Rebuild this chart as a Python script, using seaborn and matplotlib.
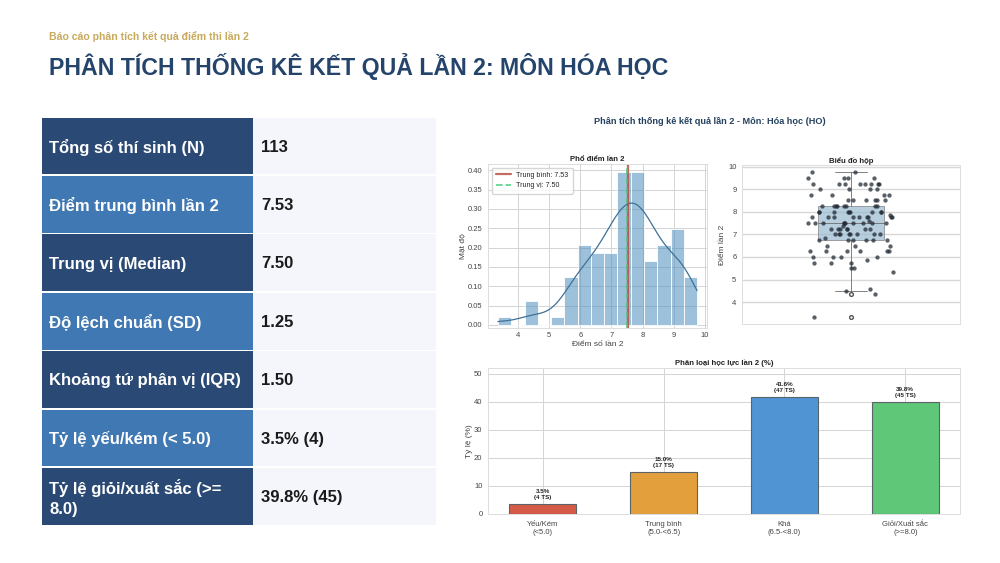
import numpy as np
import pandas as pd
import matplotlib
matplotlib.use("Agg")
import matplotlib.pyplot as plt
import seaborn as sns
from matplotlib.patches import Rectangle

sns.set_theme(style="whitegrid")
plt.rcParams['font.family'] = ['Liberation Sans', 'DejaVu Sans']

# Data
score_values = [3.35, 4.35, 4.5, 4.6, 5.35, 5.5, 5.75, 5.85, 6.0, 6.25, 6.5, 6.75, 6.85, 7.0,
                7.25, 7.35, 7.5, 7.6, 7.75, 7.85, 8.0, 8.25, 8.5, 8.75, 9.0, 9.25, 9.5, 9.75]
score_counts = [1, 1, 1, 1, 1, 2, 3, 1, 4, 6, 3, 6, 1, 8,
                7, 1, 10, 1, 9, 1, 9, 8, 6, 4, 4, 8, 4, 2]
mean_score = 7.53
median_score = 7.50

stat_labels = ["Tổng số thí sinh (N)", "Điểm trung bình lần 2", "Trung vị (Median)",
               "Độ lệch chuẩn (SD)", "Khoảng tứ phân vị (IQR)", "Tỷ lệ yếu/kém (< 5.0)",
               "Tỷ lệ giỏi/xuất sắc (>=\n8.0)"]
stat_values = ["113", "7.53", "7.50", "1.25", "1.50", "3.5% (4)", "39.8% (45)"]

grade_labels = ["Yếu/Kém\n(<5.0)", "Trung bình\n(5.0-<6.5)", "Khá\n(6.5-<8.0)", "Giỏi/Xuất sắc\n(>=8.0)"]
grade_pct = [3.5, 15.0, 41.6, 39.8]
grade_count = [4, 17, 47, 45]
grade_colors = ["#d55a48", "#e49f3d", "#5094d4", "#5ec878"]

scores = pd.Series(np.repeat(score_values, score_counts), name="score")

W, H = 1000, 563
fig = plt.figure(figsize=(10, 5.63), dpi=100, facecolor="white")


def px_axes(left, top, right, bottom):
    return fig.add_axes([left / W, 1 - bottom / H, (right - left) / W, (bottom - top) / H])


# Header
fig.text(49 / W, 1 - 37 / H, "Báo cáo phân tích kết quả điểm thi lần 2", fontsize=7.55,
         fontweight="bold", color="#c8aa5c", va="center")
fig.text(49 / W, 1 - 67 / H, "PHÂN TÍCH THỐNG KÊ KẾT QUẢ LẦN 2: MÔN HÓA HỌC", fontsize=16.7,
         fontweight="bold", color="#24446b", va="center")

# Stats table on the left
tb = fig.add_axes([0, 0, 1, 1], zorder=0)
tb.set_xlim(0, W)
tb.set_ylim(H, 0)
tb.axis("off")
row_h = 58.4
for i, (lab, val) in enumerate(zip(stat_labels, stat_values)):
    y = 117.5 + i * row_h
    tb.add_patch(Rectangle((253, y), 183, row_h - 1.5, color="#f4f6fb", lw=0))
    tb.add_patch(Rectangle((42, y), 211, row_h - 1.5, color="#2a4a75" if i % 2 == 0 else "#3f78b2", lw=0))
    tb.text(49, y + row_h / 2 + 0.5, lab, color="white", fontsize=12.0, fontweight="bold", va="center",
            linespacing=1.42)
    tb.text(261, y + row_h / 2 + 0.5, val, color="#1a1a1a", fontsize=12.0, fontweight="bold", va="center")

fig.text(709.5 / W, 1 - 121 / H, "Phân tích thống kê kết quả lần 2 - Môn: Hóa học (HO)", fontsize=6.55,
         fontweight="bold", color="#24405f", ha="center", va="center")

tick_size = 5.5
label_size = 6
title_size = 5.6

# Histogram
ax1 = px_axes(488, 164, 707, 328)
sns.histplot(x=scores, bins=15, stat="density", kde=True, color="#4f8ebf", alpha=0.55,
             edgecolor="white", linewidth=0.6, ax=ax1, line_kws={"linewidth": 0.9})
ax1.lines[0].set_color("#3f7196")
ax1.axvline(mean_score, color="#b5473a", lw=1.6, alpha=0.8, label=f"Trung bình: {mean_score:.2f}")
ax1.axvline(median_score, color="#3ecb78", lw=1.3, ls="--", alpha=0.8, label=f"Trung vị: {median_score:.2f}")
ax1.set_ylim(-0.0078, 0.416)
ax1.set_xticks([4, 5, 6, 7, 8, 9, 10])
ax1.set_yticks(np.arange(0, 0.41, 0.05))
ax1.set_yticklabels([f"{v:.2f}" for v in np.arange(0, 0.41, 0.05)])
ax1.set_title("Phổ điểm lần 2", fontsize=title_size, fontweight="bold", color="#222222", pad=2.5)
ax1.set_xlabel("Điểm số lần 2", fontsize=label_size, color="#444444", labelpad=1)
ax1.set_ylabel("Mật độ", fontsize=label_size, color="#444444", labelpad=1)
ax1.legend(loc="upper left", fontsize=5.1, frameon=True, framealpha=0.8, borderpad=0.6, handlelength=2.1)

# Box plot with points
ax2 = px_axes(742, 165, 960, 324)
sns.boxplot(y=scores, width=0.3, color="#8fbcdc", linewidth=0.6, fliersize=2.7,
            flierprops={"markerfacecolor": "white", "markeredgecolor": "#555555"},
            boxprops={"alpha": 0.7}, ax=ax2)
np.random.seed(7)
sns.stripplot(y=scores, jitter=0.2, color="#222b35", alpha=0.75, size=3.1, ax=ax2)
ax2.set_xlim(-0.5, 0.5)
ax2.set_yticks(range(4, 11))
ax2.set_title("Biểu đồ hộp", fontsize=title_size, fontweight="bold", color="#222222", pad=1.5)
ax2.set_ylabel("Điểm lần 2", fontsize=label_size, color="#444444", labelpad=1.5)
ax2.set_xlabel("")

# Bars by grade
ax3 = px_axes(488, 368, 960, 514)
grades = pd.DataFrame({"grade": grade_labels, "pct": grade_pct})
sns.barplot(data=grades, x="grade", y="pct", hue="grade", palette=grade_colors, width=0.55, saturation=1,
            edgecolor="#5a6468", linewidth=0.8, legend=False, ax=ax3, zorder=3)
for i, (p, n) in enumerate(zip(grade_pct, grade_count)):
    ax3.annotate(f"{p:.1f}%\n({n} TS)", (i, p), xytext=(0, 3), textcoords="offset points", ha="center",
                 va="bottom", fontsize=4.5, fontweight="bold", color="#222222", linespacing=1.25)
ax3.set_xlim(-0.4525, 3.4525)
ax3.set_ylim(0, 52.1)
ax3.set_yticks(range(0, 51, 10))
ax3.grid(True, axis="both")
ax3.set_axisbelow(True)
ax3.set_title("Phân loại học lực lần 2 (%)", fontsize=title_size, fontweight="bold", color="#222222", pad=2.5)
ax3.set_xlabel("")
ax3.set_ylabel("Tỷ lệ (%)", fontsize=label_size, color="#444444", labelpad=1)

for ax in (ax1, ax2, ax3):
    ax.set_facecolor("white")
    ax.tick_params(labelsize=tick_size, colors="#444444", length=0, pad=4)
    ax.grid(color="#d4d4d4", linewidth=0.7)
    for s in ax.spines.values():
        s.set_color("#dddddd")
        s.set_linewidth(0.7)
ax1.tick_params(axis="x", pad=3)
ax3.tick_params(axis="x", pad=5)
ax2.xaxis.grid(False)
ax2.yaxis.grid(True, color="#d8d8d8", linewidth=1.0)
ax2.tick_params(bottom=False, labelbottom=False)

fig.savefig("out.png", dpi=100)
